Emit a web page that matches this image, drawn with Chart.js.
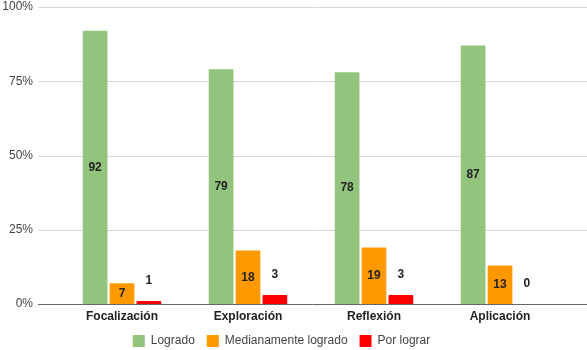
<!DOCTYPE html>
<html lang="es">
<head>
    <meta charset="UTF-8">
    <title>Resultados</title>
    <style>
        body { margin: 0; background: #fff; }
        #wrap { width: 587px; height: 350px; }
    </style>
</head>
<body>
    <div id="wrap"><canvas id="myChart" width="587" height="350"></canvas></div>
    <script src="https://cdn.jsdelivr.net/npm/chart.js"></script>
    <script>
        const categorias = ['Focalización', 'Exploración', 'Reflexión', 'Aplicación'];
        const logrado = [92, 79, 78, 87];
        const medianamente = [7, 18, 19, 13];
        const porLograr = [1, 3, 3, 0];
        const yTicks = [0, 25, 50, 75, 100];

        // grid lines run wider than the bar area, like the original sheet chart
        const gridPlugin = {
            id: 'wideGrid',
            beforeDatasetsDraw(chart) {
                const ctx = chart.ctx;
                const y = chart.scales.y;
                ctx.save();
                yTicks.forEach(t => {
                    const py = Math.round(y.getPixelForValue(t)) + 0.5;
                    ctx.strokeStyle = t === 0 ? '#666666' : '#d9d9d9';
                    ctx.lineWidth = 1;
                    ctx.beginPath();
                    ctx.moveTo(38, py);
                    ctx.lineTo(587, py);
                    ctx.stroke();
                });
                ctx.restore();
            }
        };

        const labelPlugin = {
            id: 'valueLabels',
            afterDatasetsDraw(chart) {
                const ctx = chart.ctx;
                ctx.save();
                ctx.font = 'bold 12px "Liberation Sans", Arial, sans-serif';
                ctx.fillStyle = '#222222';
                ctx.textAlign = 'center';
                ctx.textBaseline = 'middle';
                chart.data.datasets.forEach((ds, i) => {
                    chart.getDatasetMeta(i).data.forEach((bar, j) => {
                        const v = ds.data[j];
                        let py;
                        if (i === 2) {
                            py = bar.y - 20;
                        } else {
                            py = (bar.y + bar.base) / 2;
                        }
                        ctx.fillText(String(v), bar.x, py);
                    });
                });
                ctx.restore();
            }
        };

        const cfg = {
            type: 'bar',
            data: {
                labels: categorias,
                datasets: [
                    { label: 'Logrado', data: logrado, backgroundColor: '#93c47d' },
                    { label: 'Medianamente logrado', data: medianamente, backgroundColor: '#ff9900' },
                    { label: 'Por lograr', data: porLograr, backgroundColor: '#ff0000' }
                ]
            },
            options: {
                responsive: false,
                animation: false,
                layout: { padding: { top: 7, right: 24, bottom: -7, left: 0 } },
                datasets: {
                    bar: { categoryPercentage: 0.64, barPercentage: 0.92, borderRadius: 1 }
                },
                scales: {
                    x: {
                        afterFit(scale) { scale.height = 19; },
                        grid: { display: false },
                        border: { display: false },
                        ticks: {
                            color: '#222222',
                            padding: -3,
                            font: { family: '"Liberation Sans", Arial, sans-serif', size: 12, weight: 'bold' }
                        }
                    },
                    y: {
                        min: 0,
                        max: 100,
                        afterFit(scale) {
                            scale.width = 59;
                            scale.paddingTop = 0;
                            scale.paddingBottom = 0;
                        },
                        afterBuildTicks(scale) { scale.ticks = yTicks.map(v => ({ value: v })); },
                        grid: { display: false, drawTicks: false },
                        border: { display: false },
                        ticks: {
                            color: '#444444',
                            padding: 26,
                            font: { family: '"Liberation Sans", Arial, sans-serif', size: 12 },
                            callback: v => v + '%'
                        }
                    }
                },
                plugins: {
                    legend: {
                        position: 'bottom',
                        labels: {
                            boxWidth: 12,
                            boxHeight: 12,
                            padding: 12,
                            color: '#444444',
                            font: { family: '"Liberation Sans", Arial, sans-serif', size: 12 }
                        }
                    },
                    tooltip: { enabled: false }
                }
            },
            plugins: [gridPlugin, labelPlugin]
        };

        new Chart(document.getElementById('myChart').getContext('2d'), cfg);
    </script>
</body>
</html>
